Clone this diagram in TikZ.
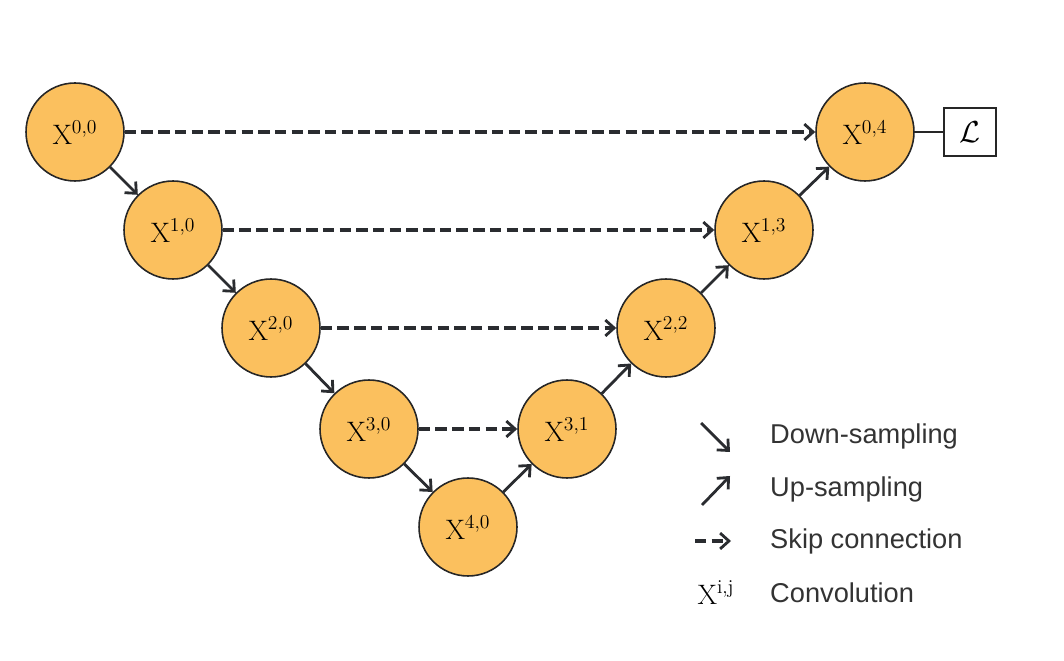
\documentclass[tikz,border=0pt]{standalone}
\usepackage{fontspec}
\newfontfamily\legendfont{Liberation Sans}
\usetikzlibrary{arrows.meta}
\definecolor{nodeorange}{RGB}{251,192,94}
\definecolor{linegray}{RGB}{42,44,48}
\begin{document}
\begin{tikzpicture}[x=0.02cm, y=-0.02cm,
	unit/.style = {fill=nodeorange,circle,draw=black!85,line width=0.9pt,minimum size=1.96cm,inner sep=0pt,font=\fontsize{16}{18}\selectfont},
	down/.style = {draw=linegray,line width=1.6pt,-{Straight Barb[length=5pt,width=9pt,line width=1.6pt]}},
	skip/.style = {down,line width=1.9pt,dash pattern=on 6.5pt off 3pt},
	legtext/.style = {anchor=west,font=\legendfont\fontsize{15.5}{18}\selectfont,text=black!80},]
		\useasboundingbox (0,0) rectangle (1064,661);
		\node[unit] (X00) at (75,132) {X\textsuperscript{0,0}};
		\node[unit] (X10) at (173,230) {X\textsuperscript{1,0}};
		\node[unit] (X20) at (271,328) {X\textsuperscript{2,0}};
		\node[unit] (X30) at (369,429) {X\textsuperscript{3,0}};
		\node[unit] (X40) at (468,527) {X\textsuperscript{4,0}};
		\node[unit] (X31) at (567,429) {X\textsuperscript{3,1}};
		\node[unit] (X22) at (666,328) {X\textsuperscript{2,2}};
		\node[unit] (X13) at (764,230) {X\textsuperscript{1,3}};
		\node[unit] (X04) at (865,132) {X\textsuperscript{0,4}};
		\node[draw=black!85,line width=1.4pt,minimum width=1.04cm,minimum height=0.96cm,font=\fontsize{16}{18}\selectfont] (L) at (970,132) {$\mathcal{L}$};
		
		% encoder
		\draw[down] (X00) -- (X10);
		\draw[down] (X10) -- (X20);
		\draw[down] (X20) -- (X30);
		\draw[down] (X30) -- (X40);
		% decoder
		\draw[down] (X40) -- (X31);
		\draw[down] (X31) -- (X22);
		\draw[down] (X22) -- (X13);
		\draw[down] (X13) -- (X04);
		% skips
		\draw[skip] (X00) -- (X04);
		\draw[skip] (X10) -- (X13);
		\draw[skip] (X20) -- (X22);
		\draw[skip] (X30) -- (X31);
		\draw[draw=black!85,line width=1.4pt] (X04) -- (L);
		
		% legend
		\coordinate (d1) at (701,423);
		\coordinate (d2) at (730,452);
		\coordinate (u1) at (702,505);
		\coordinate (u2) at (730,476);
		\coordinate (s1) at (695,541);
		\coordinate (s2) at (731,541);
		\draw[down] (d1) -- (d2);
		\draw[down] (u1) -- (u2);
		\draw[skip] (s1) -- (s2);
		\node[font=\fontsize{16}{18}\selectfont] (Xij) at (716,593) {X\textsuperscript{i,j}};
		\node[legtext] (tdown) at (764,436) {Down-sampling};
		\node[legtext] (tup) at (764,489) {Up-sampling};
		\node[legtext] (tskip) at (764,541) {Skip connection};
		\node[legtext] (tconv) at (764,593) {Convolution};
	\end{tikzpicture}
\end{document}
